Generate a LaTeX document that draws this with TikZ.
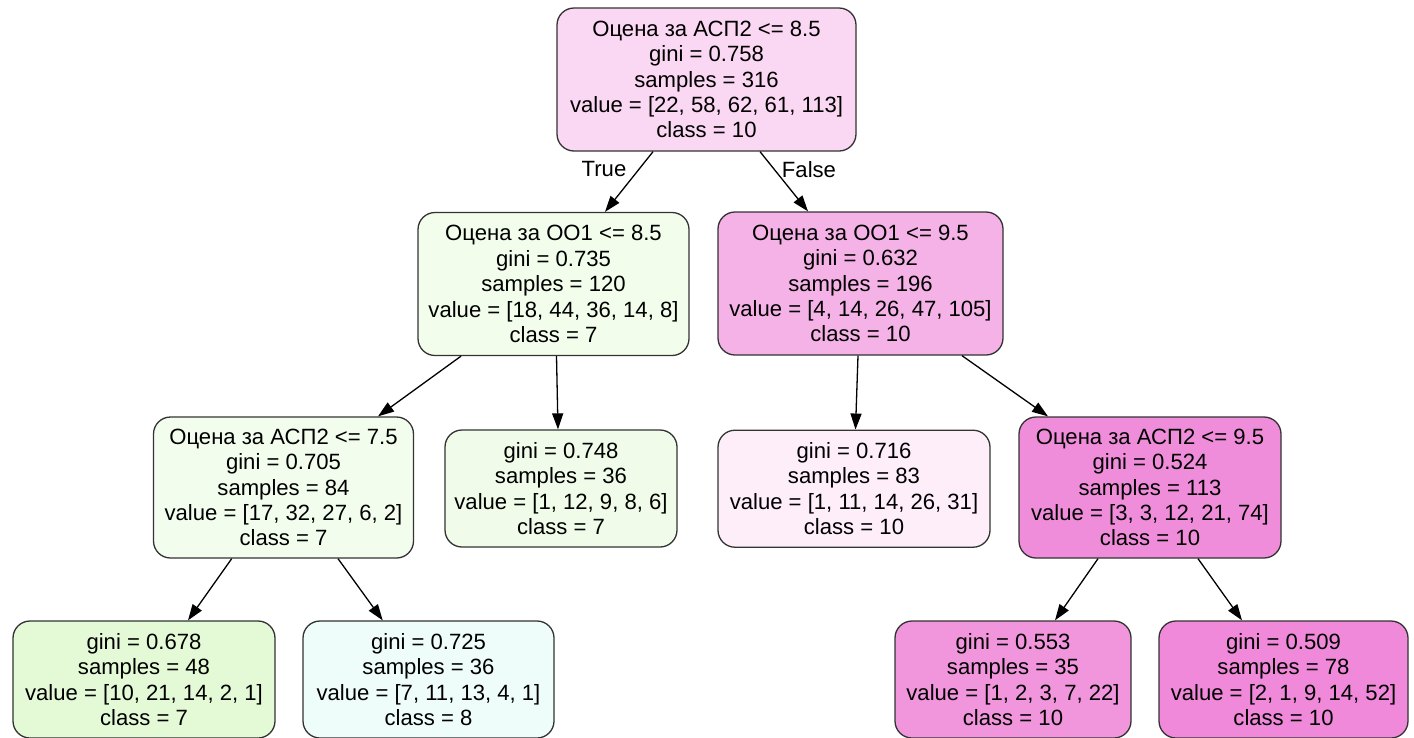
\documentclass[tikz,border=0pt]{standalone}
\usepackage{fontspec}
\setmainfont{Liberation Sans}
\usetikzlibrary{arrows.meta}

% node fills: class colour blended with white by purity
\definecolor{cRoot}{RGB}{250,215,242}
\definecolor{cA}{RGB}{242,253,236}
\definecolor{cB}{RGB}{245,178,230}
\definecolor{cC}{RGB}{243,253,238}
\definecolor{cD}{RGB}{240,252,233}
\definecolor{cE}{RGB}{253,238,250}
\definecolor{cF}{RGB}{240,141,219}
\definecolor{cG}{RGB}{228,250,214}
\definecolor{cH}{RGB}{239,253,250}
\definecolor{cI}{RGB}{241,149,221}
\definecolor{cJ}{RGB}{240,137,218}

\tikzset{
  treenode/.style={draw=black!80, line width=1.3pt, rounded corners=17pt,
    align=center, inner sep=0pt, font=\fontsize{22.1}{25.4}\selectfont},
  split/.style={treenode, minimum height=143pt},
  leaf/.style={treenode, minimum height=117pt},
  edge/.style={draw=black, line width=1.3pt, -{Triangle[length=16pt,width=11pt]}},
  edgelabel/.style={font=\fontsize{22.1}{25.4}\selectfont, inner sep=0pt}
}

\begin{document}
\begin{tikzpicture}[x=1pt,y=-1pt]
\useasboundingbox (0,0) rectangle (1414,737);
\fill[white] (0,0) rectangle (1414,737);
\clip (0,0) rectangle (1414,737);

\node[split, fill=cRoot, minimum width=299pt] (root) at (706.5,79.5)
  {Оцена за АСП2 <= 8.5\\gini = 0.758\\samples = 316\\value = [22, 58, 62, 61, 113]\\class = 10};

\node[split, fill=cA, minimum width=271pt] (a) at (553.5,284)
  {Оцена за ОО1 <= 8.5\\gini = 0.735\\samples = 120\\value = [18, 44, 36, 14, 8]\\class = 7};
\node[split, fill=cB, minimum width=285pt] (b) at (860.5,283.5)
  {Оцена за ОО1 <= 9.5\\gini = 0.632\\samples = 196\\value = [4, 14, 26, 47, 105]\\class = 10};

\node[split, fill=cC, minimum width=260pt, minimum height=141pt] (c) at (283.5,487.5)
  {Оцена за АСП2 <= 7.5\\gini = 0.705\\samples = 84\\value = [17, 32, 27, 6, 2]\\class = 7};
\node[leaf, fill=cD, minimum width=232pt] (d) at (561,488.5)
  {gini = 0.748\\samples = 36\\value = [1, 12, 9, 8, 6]\\class = 7};
\node[leaf, fill=cE, minimum width=272pt] (e) at (854,488.7)
  {gini = 0.716\\samples = 83\\value = [1, 11, 14, 26, 31]\\class = 10};
\node[split, fill=cF, minimum width=262pt, minimum height=141pt] (f) at (1150,487.5)
  {Оцена за АСП2 <= 9.5\\gini = 0.524\\samples = 113\\value = [3, 3, 12, 21, 74]\\class = 10};

\node[leaf, fill=cG, minimum width=262pt] (g) at (144,679.5)
  {gini = 0.678\\samples = 48\\value = [10, 21, 14, 2, 1]\\class = 7};
\node[leaf, fill=cH, minimum width=251pt] (h) at (428.5,679.5)
  {gini = 0.725\\samples = 36\\value = [7, 11, 13, 4, 1]\\class = 8};
\node[leaf, fill=cI, minimum width=236pt] (i) at (1013,679.5)
  {gini = 0.553\\samples = 35\\value = [1, 2, 3, 7, 22]\\class = 10};
\node[leaf, fill=cJ, minimum width=249pt] (j) at (1283.5,679.5)
  {gini = 0.509\\samples = 78\\value = [2, 1, 9, 14, 52]\\class = 10};

% connectors
\draw[edge] ([xshift=-53.5pt]root.south) -- ([xshift=51.5pt]a.north);
\draw[edge] ([xshift=53.5pt]root.south) -- ([xshift=-52.5pt]b.north);
\draw[edge] ([xshift=-92.5pt]a.south) -- ([xshift=94.5pt]c.north);
\draw[edge] ([xshift=3pt]a.south) -- ([xshift=-3pt]d.north);
\draw[edge] ([xshift=-2.5pt]b.south) -- ([xshift=1.5pt]e.north);
\draw[edge] ([xshift=101.5pt]b.south) -- ([xshift=-102pt]f.north);
\draw[edge] ([xshift=-51.8pt]c.south) -- ([xshift=44pt]g.north);
\draw[edge] ([xshift=54.5pt]c.south) -- ([xshift=-45.8pt]h.north);
\draw[edge] ([xshift=-52pt]f.south) -- ([xshift=42pt]i.north);
\draw[edge] ([xshift=48pt]f.south) -- ([xshift=-41.5pt]j.north);

\node[edgelabel] (tlabel) at (604,169.5) {True};
\node[edgelabel] (flabel) at (809,169.5) {False};
\end{tikzpicture}
\end{document}
